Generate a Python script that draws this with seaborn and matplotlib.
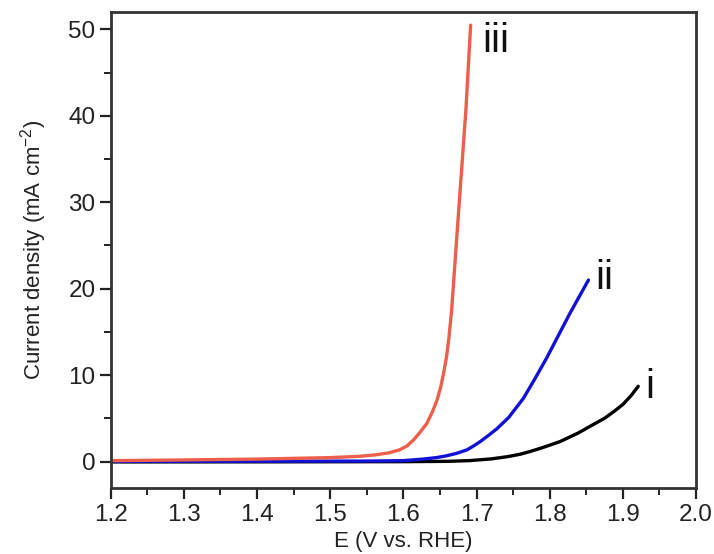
"""
LSV polarisation curves (current density vs. potential)
"""

import pandas as pd
import seaborn as sns
import matplotlib.pyplot as plt
from matplotlib.ticker import MultipleLocator

# -------------------------
# Data
# -------------------------
E_i = [1.20, 1.40, 1.60, 1.66, 1.69, 1.72, 1.744, 1.76, 1.773, 1.79, 1.814,
       1.839, 1.860, 1.875, 1.888, 1.900, 1.911, 1.921]
J_i = [-0.05, -0.04, -0.02, 0.02, 0.10, 0.30, 0.58, 0.85, 1.15, 1.6, 2.3,
       3.3, 4.3, 5.0, 5.8, 6.6, 7.6, 8.7]

E_ii = [1.20, 1.40, 1.55, 1.60, 1.627, 1.645, 1.659, 1.673, 1.687, 1.696,
        1.705, 1.716, 1.728, 1.744, 1.764, 1.780, 1.796, 1.812, 1.828, 1.853]
J_ii = [0.02, 0.03, 0.05, 0.10, 0.28, 0.45, 0.66, 0.95, 1.35, 1.8,
        2.3, 3.0, 3.8, 5.1, 7.3, 9.6, 12.0, 14.6, 17.2, 21.0]

E_iii = [1.20, 1.30, 1.40, 1.50, 1.54, 1.56, 1.58, 1.595, 1.605, 1.614,
         1.623, 1.632, 1.640, 1.646, 1.651, 1.655, 1.659, 1.662, 1.666,
         1.6725, 1.679, 1.6855, 1.692]
J_iii = [0.10, 0.18, 0.28, 0.45, 0.60, 0.75, 1.0, 1.35, 1.8, 2.5,
         3.4, 4.4, 5.8, 7.1, 8.6, 10.2, 12.1, 14.1, 17.5,
         25.3, 33.0, 40.7, 50.5]

labels = ["i", "ii", "iii"]
colors = ["#000000", "#1212d6", "#ec5f4a"]

df = pd.concat([
    pd.DataFrame({"E": E_i, "J": J_i, "sample": "i"}),
    pd.DataFrame({"E": E_ii, "J": J_ii, "sample": "ii"}),
    pd.DataFrame({"E": E_iii, "J": J_iii, "sample": "iii"}),
])

# -------------------------
# Style
# -------------------------
sns.set_style("ticks")
plt.rcParams["font.family"] = ["Liberation Sans", "DejaVu Sans"]
plt.rcParams["text.color"] = "#222222"
plt.rcParams["axes.labelcolor"] = "#222222"
plt.rcParams["xtick.color"] = "#222222"
plt.rcParams["ytick.color"] = "#222222"

fig = plt.figure(figsize=(7.14, 5.54), dpi=100)
ax = fig.add_axes([0.155, 0.1186, 0.8198, 0.8594])

sns.lineplot(data=df, x="E", y="J", hue="sample", palette=colors,
             hue_order=labels, sort=False, estimator=None,
             linewidth=2.4, legend=False, ax=ax)

# curve labels
ends = [(E_i[-1], J_i[-1]), (E_ii[-1], J_ii[-1]), (E_iii[-1], J_iii[-1])]
offsets = [(0.009, -1.4), (0.009, -1.0), (0.016, -3.1)]
for lab, (x, y), (dx, dy) in zip(labels, ends, offsets):
    ax.text(x + dx, y + dy, lab, fontsize=29, color="#111111",
            ha="left", va="baseline")

ax.set_xlim(1.2, 2.0)
ax.set_ylim(-3.1, 52.0)
ax.set_xticks([1.2, 1.3, 1.4, 1.5, 1.6, 1.7, 1.8, 1.9, 2.0])
ax.set_xticklabels(["1.2", "1.3", "1.4", "1.5", "1.6", "1.7", "1.8", "1.9", "2.0"])
ax.xaxis.set_minor_locator(MultipleLocator(0.05))
ax.yaxis.set_major_locator(MultipleLocator(10))
ax.yaxis.set_minor_locator(MultipleLocator(5))

ax.tick_params(which="major", direction="out", length=8, width=1.6,
               labelsize=17.5, pad=3)
ax.tick_params(which="minor", direction="out", length=5, width=1.4)

for s in ax.spines.values():
    s.set_linewidth(2.0)
    s.set_color("#333333")

ax.set_xlabel("E (V vs. RHE)", fontsize=16, labelpad=4)
ax.set_ylabel("Current density (mA cm$^{\\mathregular{-2}}$)", fontsize=16,
              labelpad=14)

fig.savefig("out.png", dpi=100)
